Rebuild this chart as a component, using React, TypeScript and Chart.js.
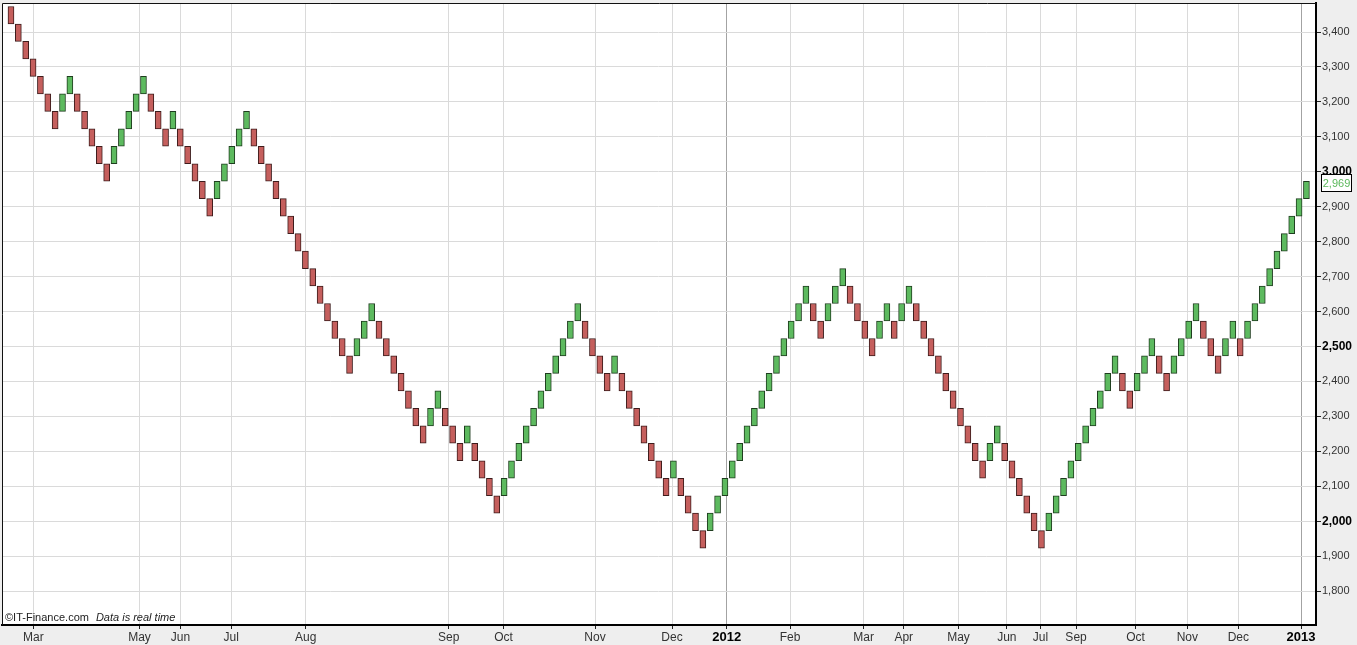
import React, { useEffect, useRef } from "react";
import { Chart, registerables } from "chart.js";

Chart.register(...registerables);

// Renko box size and the low of the (hidden) brick before the first one
const BOX_SIZE = 50;
const PRIOR_LOW = 3473;

// Low value of every Renko brick, left to right
const brickLows = [
  3423, 3373, 3323, 3273, 3223, 3173, 3123,
  3173, 3223,
  3173, 3123, 3073, 3023, 2973,
  3023, 3073, 3123, 3173, 3223,
  3173, 3123, 3073,
  3123,
  3073, 3023, 2973, 2923, 2873,
  2923, 2973, 3023, 3073, 3123,
  3073, 3023, 2973, 2923, 2873, 2823, 2773, 2723, 2673, 2623, 2573, 2523, 2473, 2423,
  2473, 2523, 2573,
  2523, 2473, 2423, 2373, 2323, 2273, 2223,
  2273, 2323,
  2273, 2223, 2173,
  2223,
  2173, 2123, 2073, 2023,
  2073, 2123, 2173, 2223, 2273, 2323, 2373, 2423, 2473, 2523, 2573,
  2523, 2473, 2423, 2373,
  2423,
  2373, 2323, 2273, 2223, 2173, 2123, 2073,
  2123,
  2073, 2023, 1973, 1923,
  1973, 2023, 2073, 2123, 2173, 2223, 2273, 2323, 2373, 2423, 2473, 2523, 2573, 2623,
  2573, 2523,
  2573, 2623, 2673,
  2623, 2573, 2523, 2473,
  2523, 2573,
  2523,
  2573, 2623,
  2573, 2523, 2473, 2423, 2373, 2323, 2273, 2223, 2173, 2123,
  2173, 2223,
  2173, 2123, 2073, 2023, 1973, 1923,
  1973, 2023, 2073, 2123, 2173, 2223, 2273, 2323, 2373, 2423,
  2373, 2323,
  2373, 2423, 2473,
  2423, 2373,
  2423, 2473, 2523, 2573,
  2523, 2473, 2423,
  2473, 2523,
  2473,
  2523, 2573, 2623, 2673, 2723, 2773, 2823, 2873, 2923,
];

// Date labels on the brick axis (positions measured in brick index)
const monthTickPositions = [
  3.04, 17.46, 23.03, 29.93, 40.04, 59.47, 66.93, 79.35, 89.81, 97.25,
  105.84, 115.83, 121.29, 128.73, 135.3, 139.87, 144.7, 152.78, 159.82, 166.75, 175.27,
];
const monthTickLabels = [
  "Mar", "May", "Jun", "Jul", "Aug", "Sep", "Oct", "Nov", "Dec", "2012",
  "Feb", "Mar", "Apr", "May", "Jun", "Jul", "Sep", "Oct", "Nov", "Dec", "2013",
];

// Price axis
const priceTicks = [1800, 1900, 2000, 2100, 2200, 2300, 2400, 2500, 2600, 2700, 2800, 2900, 3000, 3100, 3200, 3300, 3400];
const boldPriceTicks = [2000, 2500, 3000];
const LAST_PRICE = 2969;

const UP_FILL = "#5dba5f";
const UP_BORDER = "#1f3d1f";
const DOWN_FILL = "#c55f5d";
const DOWN_BORDER = "#3d1c1c";

const SANS = '"Liberation Sans", Arial, sans-serif';
const NARROW = '"Liberation Sans Narrow", "Liberation Sans", Arial, sans-serif';

const isYear = (s: string) => /^\d{4}$/.test(s);

const chromePlugin = {
  id: "chrome",
  beforeDraw(chart: any) {
    const { ctx, chartArea: a, width, height } = chart;
    ctx.save();
    ctx.fillStyle = "#eeeeee";
    ctx.fillRect(0, 0, width, height);
    ctx.fillStyle = "#ffffff";
    ctx.fillRect(a.left, a.top, a.right - a.left, a.bottom - a.top);
    ctx.restore();
  },
  afterDraw(chart: any) {
    const { ctx, chartArea: a } = chart;
    ctx.save();
    // left and top frame
    ctx.strokeStyle = "#111";
    ctx.lineWidth = 1;
    ctx.beginPath();
    ctx.moveTo(a.left + 0.5, a.bottom);
    ctx.lineTo(a.left + 0.5, a.top + 0.5);
    ctx.lineTo(a.right, a.top + 0.5);
    ctx.stroke();

    // watermark
    ctx.fillStyle = "#222";
    ctx.textBaseline = "alphabetic";
    ctx.textAlign = "left";
    ctx.font = `11px ${SANS}`;
    const t1 = "\u00A9IT-Finance.com";
    ctx.fillText(t1, a.left + 3, a.bottom - 4);
    const w1 = ctx.measureText(t1).width;
    ctx.font = `italic 11px ${SANS}`;
    ctx.fillText("Data is real time", a.left + 3 + w1 + 7, a.bottom - 4);

    // last price box
    const y = chart.scales.y.getPixelForValue(LAST_PRICE);
    const bx = a.right + 5.5;
    const bw = 30;
    const bh = 17;
    ctx.fillStyle = "#ffffff";
    ctx.fillRect(bx, Math.round(y - bh / 2) + 0.5, bw, bh);
    ctx.strokeStyle = "#000";
    ctx.lineWidth = 1;
    ctx.strokeRect(bx, Math.round(y - bh / 2) + 0.5, bw, bh);
    ctx.fillStyle = "#5cb85c";
    ctx.font = `11px ${SANS}`;
    ctx.textAlign = "center";
    ctx.textBaseline = "middle";
    ctx.fillText(LAST_PRICE.toLocaleString("en-US"), bx + bw / 2, Math.round(y) + 1);
    ctx.restore();
  },
};

export default function App() {
  const canvasRef = useRef<HTMLCanvasElement | null>(null);

  useEffect(() => {
    document.body.style.margin = "0";
    const canvas = canvasRef.current;
    if (!canvas) return;

    const isUp = (i: number) => brickLows[i] > (i === 0 ? PRIOR_LOW : brickLows[i - 1]);

    const chart = new Chart(canvas, {
      type: "bar",
      data: {
        datasets: [
          {
            data: brickLows.map((lo, i) => ({ x: i, y: [lo, lo + BOX_SIZE] })) as any,
            backgroundColor: brickLows.map((_, i) => (isUp(i) ? UP_FILL : DOWN_FILL)),
            borderColor: brickLows.map((_, i) => (isUp(i) ? UP_BORDER : DOWN_BORDER)),
            borderWidth: 1,
            borderSkipped: false,
            barThickness: 6,
          },
        ],
      },
      plugins: [chromePlugin],
      options: {
        animation: false,
        responsive: true,
        maintainAspectRatio: false,
        layout: { padding: { left: 2, top: 3, right: 0, bottom: 0 } },
        plugins: {
          legend: { display: false },
          tooltip: { enabled: false },
        },
        scales: {
          x: {
            type: "linear",
            min: -1.22,
            max: 177.3,
            offset: false,
            afterBuildTicks: (scale: any) => {
              scale.ticks = monthTickPositions.map((v) => ({ value: v }));
            },
            afterFit: (scale: any) => {
              scale.height = 20;
              scale.paddingLeft = 0;
              scale.paddingRight = 0;
            },
            ticks: {
              autoSkip: false,
              maxRotation: 0,
              minRotation: 0,
              padding: 1,
              callback: (_v: any, index: number) => monthTickLabels[index],
              font: (ctx: any) =>
                isYear(monthTickLabels[ctx.index] || "")
                  ? { family: SANS, size: 13, weight: "bold" }
                  : { family: NARROW, size: 12 },
              color: (ctx: any) => (isYear(monthTickLabels[ctx.index] || "") ? "#000" : "#333"),
            },
            grid: {
              offset: false,
              color: (ctx: any) =>
                ctx.tick && isYear(monthTickLabels[ctx.index] || "") ? "#a3a3a3" : "#dadada",
              lineWidth: 1,
              drawTicks: true,
              tickLength: 4,
              tickColor: "#222",
            },
            border: { display: true, color: "#000", width: 2 },
          },
          y: {
            type: "linear",
            position: "right",
            min: 1703,
            max: 3483,
            afterBuildTicks: (scale: any) => {
              scale.ticks = priceTicks.map((v) => ({ value: v }));
            },
            afterFit: (scale: any) => {
              scale.width = 41;
              scale.paddingTop = 0;
              scale.paddingBottom = 0;
            },
            ticks: {
              padding: 1,
              crossAlign: "near",
              callback: (v: any) => Number(v).toLocaleString("en-US"),
              font: (ctx: any) =>
                ctx.tick && boldPriceTicks.includes(ctx.tick.value)
                  ? { family: SANS, size: 12, weight: "bold" }
                  : { family: SANS, size: 11 },
              color: (ctx: any) =>
                ctx.tick && boldPriceTicks.includes(ctx.tick.value) ? "#000" : "#333",
            },
            grid: {
              color: "#dadada",
              lineWidth: 1,
              drawTicks: true,
              tickLength: 5,
              tickColor: "#222",
            },
            border: { display: true, color: "#000", width: 2 },
          },
        },
      } as any,
    });

    return () => chart.destroy();
  }, []);

  return (
    <div style={{ position: "relative", width: "1357px", height: "645px" }}>
      <canvas ref={canvasRef} />
    </div>
  );
}
